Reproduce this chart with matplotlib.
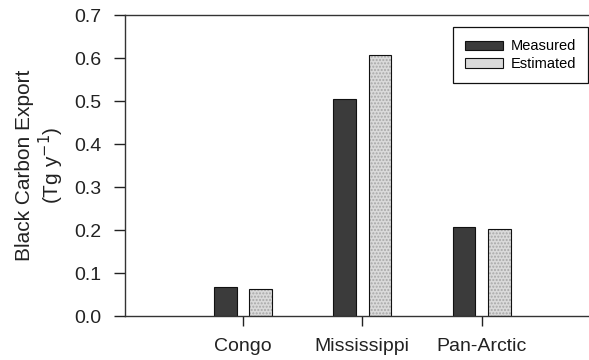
import numpy as np
import matplotlib
matplotlib.use('Agg')
import matplotlib.pyplot as plt
from matplotlib.patches import Patch

plt.rcParams['font.family'] = ['Liberation Sans', 'DejaVu Sans']

rivers = ['Congo', 'Mississippi', 'Pan-Arctic']
measured = [0.067, 0.504, 0.207]
estimated = [0.063, 0.608, 0.202]

dark = '#3b3b3b'
light = '#dadada'

fig = plt.figure(figsize=(5.89, 3.6), dpi=100)
ax = fig.add_axes([0.212, 0.122, 0.788, 0.836])

x = np.arange(1, len(rivers) + 1)
w = 0.19
off = 0.148

ax.bar(x - off, measured, w, color=dark, edgecolor='#111111', linewidth=0.8)
# stippled fill, then outline on top
ax.bar(x + off, estimated, w, color=light, edgecolor='#a8a8a8',
       hatch='.....', linewidth=0)
ax.bar(x + off, estimated, w, fill=False, edgecolor='#111111', linewidth=0.8)

ax.set_xlim(0.01, 3.9)
ax.set_ylim(0, 0.7)
ax.set_yticks(np.arange(0, 0.71, 0.1))
ax.set_yticklabels(['%.1f' % v for v in np.arange(0, 0.71, 0.1)])
ax.set_xticks(x)
ax.set_xticklabels(rivers)

ax.spines['right'].set_visible(False)
for s in ['left', 'top', 'bottom']:
    ax.spines[s].set_linewidth(1.0)
    ax.spines[s].set_color('#333333')

ax.tick_params(axis='y', direction='out', length=8, width=1, pad=9,
               labelsize=14, colors='#222222')
ax.tick_params(axis='x', direction='out', length=7, width=1, pad=9,
               labelsize=14, colors='#222222')

ax.set_ylabel('Black Carbon Export\n(Tg y$^{-1}$)', fontsize=15,
              color='#222222', linespacing=1.1, labelpad=6)

handles = [Patch(facecolor=dark, edgecolor='#111111', linewidth=0.8),
           Patch(facecolor=light, edgecolor='#111111', linewidth=0.8)]
leg = fig.legend(handles, ['Measured', 'Estimated'], loc='upper right',
                 bbox_to_anchor=(0.999, 0.925), fontsize=10.5,
                 fancybox=False, edgecolor='#111111', framealpha=1,
                 handlelength=2.6, handleheight=0.6, handletextpad=0.5,
                 borderpad=0.85, labelspacing=0.25, borderaxespad=0)
leg.get_frame().set_linewidth(0.9)

fig.savefig('out.png', dpi=100)
